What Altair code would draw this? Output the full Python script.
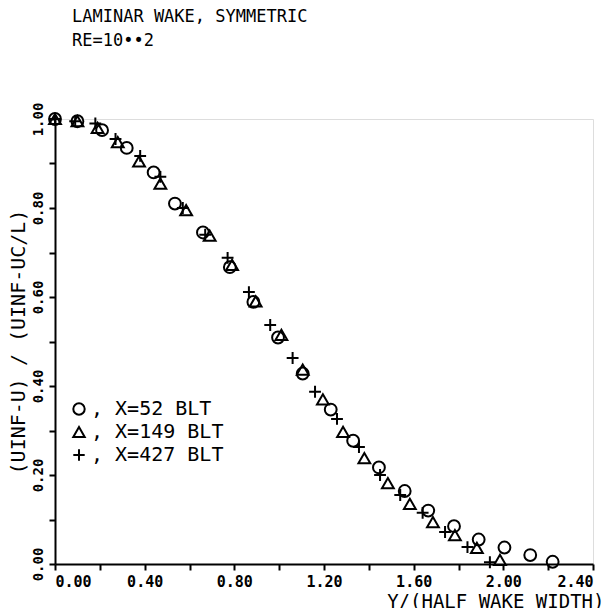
import altair as alt
import pandas as pd

# Series: X=52 BLT (circles)
x52 = [0.00, 0.10, 0.21, 0.32, 0.44, 0.535, 0.66, 0.78, 0.885, 0.995, 1.105, 1.23, 1.33, 1.445, 1.56, 1.665, 1.78, 1.89, 2.005, 2.12, 2.22]
y52 = [1.00, 0.995, 0.975, 0.935, 0.88, 0.81, 0.745, 0.667, 0.589, 0.509, 0.428, 0.347, 0.277, 0.217, 0.164, 0.12, 0.085, 0.055, 0.037, 0.02, 0.005]

# Series: X=149 BLT (triangles)
x149 = [0.00, 0.10, 0.19, 0.28, 0.375, 0.47, 0.585, 0.69, 0.79, 0.895, 1.01, 1.105, 1.195, 1.285, 1.38, 1.485, 1.583, 1.686, 1.784, 1.882, 1.985]
y149 = [1.00, 0.995, 0.98, 0.948, 0.905, 0.855, 0.795, 0.738, 0.672, 0.59, 0.515, 0.437, 0.37, 0.297, 0.238, 0.182, 0.135, 0.094, 0.065, 0.036, 0.009]

# Series: X=427 BLT (plus)
x427 = [0.00, 0.09, 0.18, 0.27, 0.38, 0.47, 0.57, 0.67, 0.77, 0.865, 0.96, 1.06, 1.16, 1.258, 1.356, 1.45, 1.54, 1.64, 1.74, 1.84, 1.94]
y427 = [1.00, 0.995, 0.99, 0.955, 0.917, 0.87, 0.80, 0.74, 0.688, 0.611, 0.537, 0.463, 0.387, 0.326, 0.263, 0.20, 0.155, 0.115, 0.072, 0.038, 0.004]

series = ["X=52 BLT", "X=149 BLT", "X=427 BLT"]
title_lines = ["LAMINAR WAKE, SYMMETRIC", "RE=10\u2022\u20222"]
x_ticks = [0.0, 0.2, 0.4, 0.6, 0.8, 1.0, 1.2, 1.4, 1.6, 1.8, 2.0, 2.2, 2.4]
y_ticks = [0.0, 0.1, 0.2, 0.3, 0.4, 0.5, 0.6, 0.7, 0.8, 0.9, 1.0]

rows = []
for name, xs, ys in zip(series, [x52, x149, x427], [y52, y149, y427]):
    for a, b in zip(xs, ys):
        rows.append({"xv": a, "yv": b, "series": name})
df = pd.DataFrame(rows)

FONT = "DejaVu Sans Mono"
plus_path = "M-1,0H1M0,-1V1"

chart = alt.Chart(df).mark_point(filled=False, strokeWidth=2, color="black", opacity=1).encode(
    x=alt.X("xv:Q", scale=alt.Scale(domain=[0, 2.4], nice=False, zero=False),
            axis=alt.Axis(values=x_ticks, title="Y/(HALF WAKE WIDTH)",
                          labelExpr="round(datum.value*10) % 4 == 0 ? format(datum.value, '.2f') : ''",
                          grid=False, domainColor="black", domainWidth=2, tickColor="black",
                          tickWidth=2, tickSize=6, labelFont=FONT, labelFontSize=15,
                          labelFontWeight="bold", labelColor="black", labelPadding=4,
                          titleFont=FONT, titleFontSize=19, titleFontWeight="normal",
                          titleColor="black", titleAnchor="end", titleAlign="right",
                          titleX=549, titleY=43, titleBaseline="alphabetic")),
    y=alt.Y("yv:Q", scale=alt.Scale(domain=[0, 1.0], nice=False, zero=False),
            axis=alt.Axis(values=y_ticks, title="(UINF-U) / (UINF-UC/L)",
                          labelExpr="round(datum.value*10) % 2 == 0 ? format(datum.value, '.2f') : ''",
                          grid=False, domainColor="black", domainWidth=2, tickColor="black",
                          tickWidth=2, tickSize=6, labelFont=FONT, labelFontSize=14,
                          labelFontWeight="bold", labelColor="black", labelAngle=270,
                          labelAlign="center", labelBaseline="bottom", labelPadding=4,
                          titleFont=FONT, titleFontSize=20, titleFontWeight="normal",
                          titleColor="black", titlePadding=3)),
    shape=alt.Shape("series:N", scale=alt.Scale(domain=series, range=["circle", "triangle-up", plus_path]),
                    legend=alt.Legend(title=None, orient="none", legendX=14, legendY=280,
                                      labelExpr="', ' + datum.label", labelFont=FONT,
                                      labelFontSize=20, labelColor="black", symbolStrokeColor="black",
                                      symbolStrokeWidth=2, symbolSize=130, symbolFillColor="transparent",
                                      rowPadding=3, labelOffset=2)),
    size=alt.value(140),
).properties(
    width=538, height=445,
    autosize="none",
    padding={"left": 47, "top": 111, "right": 9, "bottom": 44},
    title=alt.TitleParams(text=title_lines, anchor="start", dx=17, dy=20, offset=72, font=FONT,
                          fontSize=17, fontWeight="normal", color="black", lineHeight=24,
                          frame="group"),
).configure_view(stroke=None).configure(background="white")

chart.save("out.html", embed_options={"renderer": "svg", "actions": False})
